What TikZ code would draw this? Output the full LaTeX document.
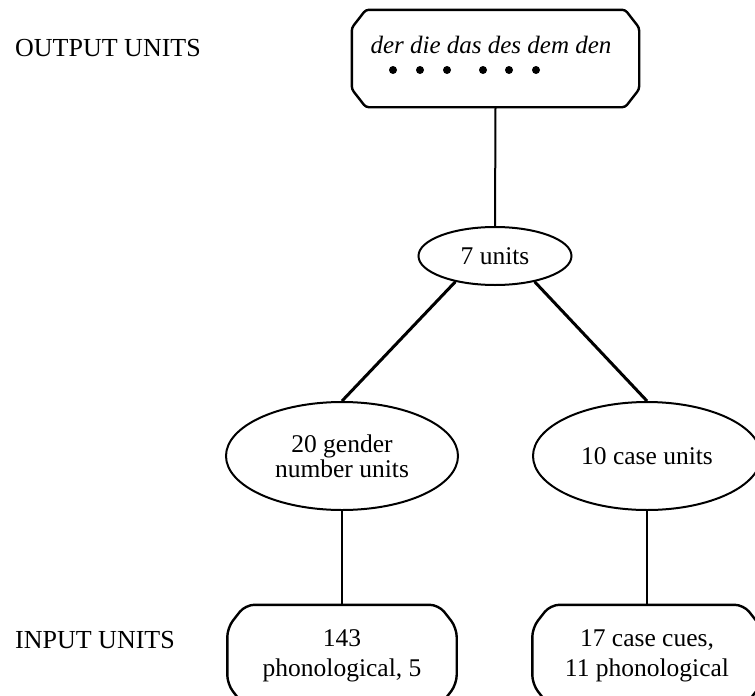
\documentclass[tikz,border=0pt]{standalone}
\usepackage{fontspec}
\setmainfont{Liberation Serif}
\usetikzlibrary{shapes.geometric,calc}

% frame with cut corners around a node: #1 node, #2 horizontal cut, #3 vertical cut, #4 rounding
\newcommand\cutframe[4]{%
  \draw[boxline, rounded corners=#4]
    ($(#1.north west)+(0,#3)$) -- ($(#1.north west)+(#2,0)$) --
    ($(#1.north east)+(-#2,0)$) -- ($(#1.north east)+(0,#3)$) --
    ($(#1.south east)+(0,-#3)$) -- ($(#1.south east)+(-#2,0)$) --
    ($(#1.south west)+(#2,0)$) -- ($(#1.south west)+(0,-#3)$) -- cycle;}

\begin{document}
\begin{tikzpicture}[x=1pt, y=-1pt,
  sidelabel/.style={font=\fontsize{26}{26}\selectfont, inner sep=0pt, anchor=base west},
  unitell/.style={draw, ellipse, line width=2pt, inner sep=0pt,
                  font=\fontsize{25.5}{25}\selectfont, align=center},
  layerbox/.style={inner sep=0pt, font=\fontsize{25.5}{30}\selectfont, align=center},
  boxline/.style={line width=2.4pt},
  link/.style={line width=2pt},
  diag/.style={line width=3pt}]
\useasboundingbox (0,0) rectangle (755,696);
\begin{scope}
\clip (0,0) rectangle (755,696);

% side labels
\node[sidelabel] (outlbl) at (15,56) {OUTPUT UNITS};
\node[sidelabel] (inlbl) at (15,648) {INPUT UNITS};

% output layer
\node[layerbox, minimum width=287pt, minimum height=97pt] (out) at (495.5,58.5) {};
\cutframe{out}{14}{18}{3pt}
\node[font=\fontsize{25}{25}\selectfont\itshape, inner sep=0pt, anchor=base] (words) at (491,53)
  {der die das des dem den};
\foreach \x in {393,420,447,483,509,536} \fill (\x,70) circle (4pt);

% hidden layers
\node[unitell, minimum width=153pt, minimum height=58pt] (hid) at (495,256) {7 units};
\node[unitell, minimum width=232pt, minimum height=108pt] (gn) at (342,456) {20 gender\\number units};
\node[unitell, minimum width=228pt, minimum height=108pt] (cs) at (647,456) {10 case units};

% input layer
\node[layerbox, minimum width=229pt, minimum height=102pt] (inl) at (342,656) {143\\phonological, 5};
\cutframe{inl}{18}{23}{9pt}
\node[layerbox, minimum width=229pt, minimum height=102pt] (inr) at (647,656) {17 case cues,\\11 phonological};
\cutframe{inr}{18}{23}{9pt}

% connections
\draw[link] (out.south) -- (hid.north);
\draw[diag] (hid.213) -- (gn.north);
\draw[diag] (hid.327) -- (cs.north);
\draw[link] (gn.south) -- (inl.north);
\draw[link] (cs.south) -- (inr.north);
\end{scope}
\end{tikzpicture}
\end{document}
